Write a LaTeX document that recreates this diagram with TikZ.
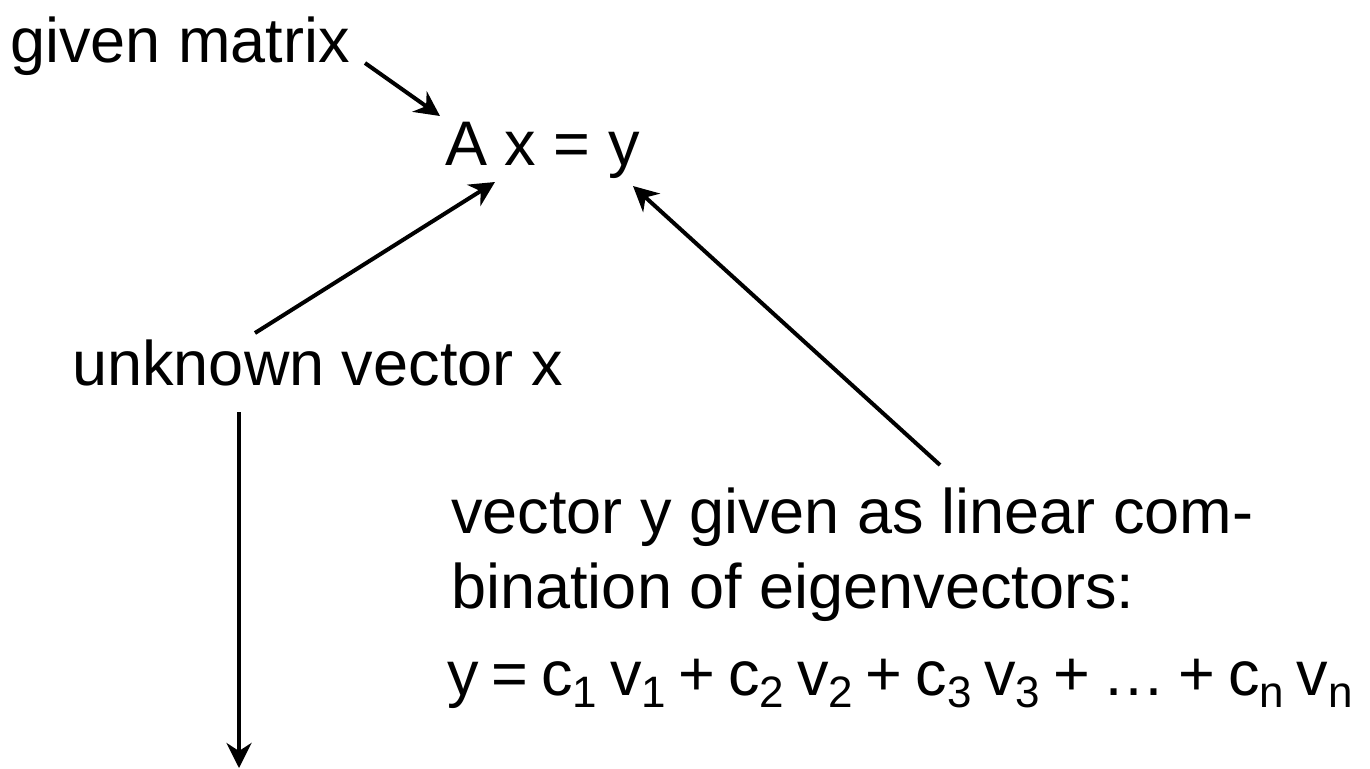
\documentclass[tikz,border=0pt]{standalone}
\usepackage{fontspec}
\setmainfont{Liberation Sans}
\usetikzlibrary{arrows.meta}
\newcommand{\sbs}[1]{\raisebox{-6pt}{\fontsize{22}{22}\selectfont #1}}
\begin{document}
\begin{tikzpicture}[x=0.5pt,y=-0.5pt,
  txt/.style={inner sep=0pt, anchor=base west, font=\fontsize{31.5}{37.5}\selectfont},
  arr/.style={line width=2pt, -{Stealth[length=12.5pt,width=12.5pt,inset=4pt]}}]
\useasboundingbox (0,0) rectangle (1370,768);
\node[txt] (gm) at (10,62) {given matrix};
\node[txt] (eq) at (445,165) {A x = y};
\node[txt] (uv) at (72,385) {unknown vector x};
\node[txt] (l1) at (451,533) {vector y given as linear com-};
\node[txt] (l2) at (451,608) {bination of eigenvectors:};
\node[txt] (l3) at (447,695) {\spaceskip=6.4pt\relax y = c\sbs{1} v\sbs{1} + c\sbs{2} v\sbs{2} + c\sbs{3} v\sbs{3} + … + c\sbs{n} v\sbs{n}};
\coordinate (a1s) at (365,63);
\coordinate (a1e) at (440,116);
\coordinate (a2s) at (255,333);
\coordinate (a2e) at (495,182);
\coordinate (a3s) at (940,465);
\coordinate (a3e) at (633,186);
\coordinate (a4s) at (239,412);
\coordinate (a4e) at (239,768);
\draw[arr] (a1s) -- (a1e);
\draw[arr] (a2s) -- (a2e);
\draw[arr] (a3s) -- (a3e);
\draw[arr] (a4s) -- (a4e);
\end{tikzpicture}
\end{document}
